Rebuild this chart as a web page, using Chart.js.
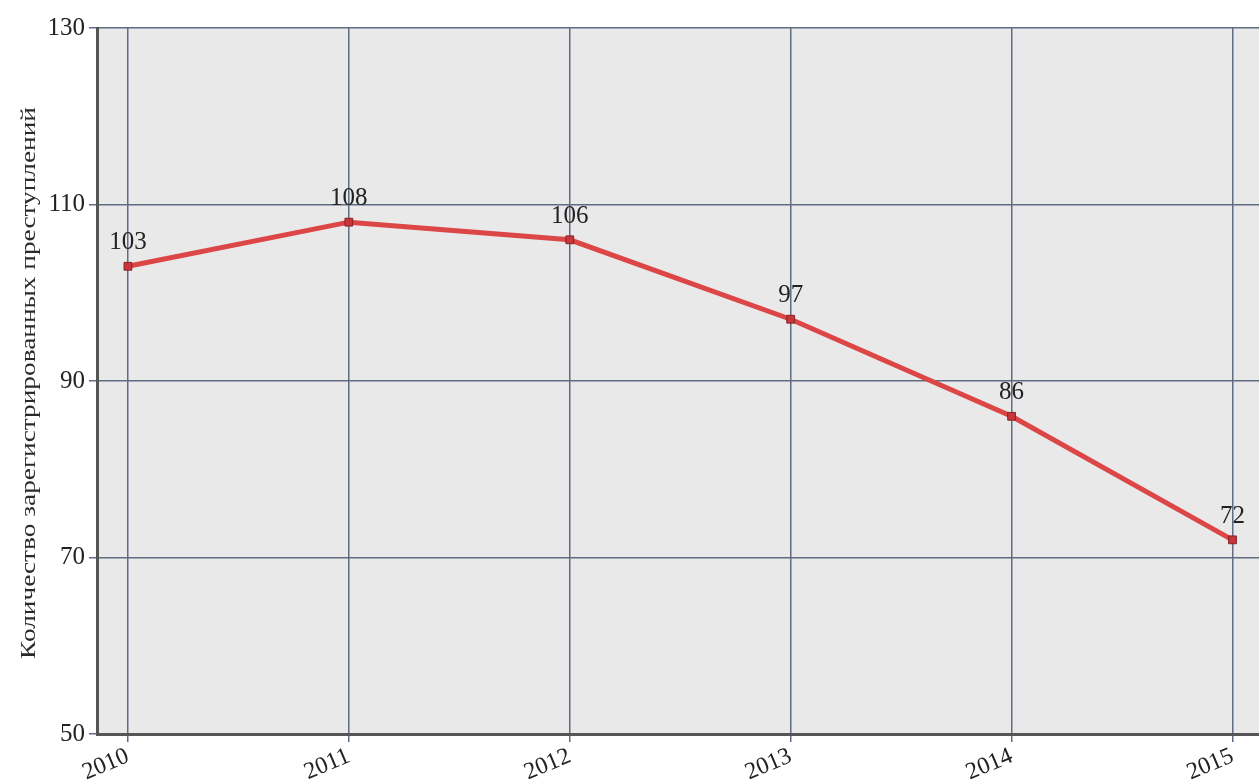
<!DOCTYPE html>
<html>
<head>
<meta charset="utf-8">
<script src="https://cdn.jsdelivr.net/npm/chart.js@4"></script>
<style>
  html, body { margin: 0; padding: 0; background: #fff; overflow: hidden; }
  #wrap { width: 1259px; height: 783px; }
</style>
</head>
<body>
<div id="wrap"><canvas id="lineChart" width="1259" height="783"></canvas></div>
<script>
// данные
const years = [2010, 2011, 2012, 2013, 2014, 2015];
const crimes = [103, 108, 106, 97, 86, 72];
const yTitle = "Количество зарегистрированных преступлений";

const serif = "'Liberation Serif', 'DejaVu Serif', serif";

// серый фон области графика
const plotBg = {
  id: "plotBg",
  beforeDraw(chart) {
    const { ctx, chartArea: a } = chart;
    ctx.save();
    ctx.fillStyle = "#e9e9e9";
    ctx.fillRect(a.left, a.top, a.right - a.left, a.bottom - a.top);
    ctx.restore();
  }
};

// подпись оси Y (немного растянута, как в оригинале)
const yAxisTitle = {
  id: "yAxisTitle",
  afterDraw(chart) {
    const { ctx, chartArea: a } = chart;
    ctx.save();
    ctx.translate(29, (a.top + a.bottom) / 2 + 2);
    ctx.rotate(-Math.PI / 2);
    ctx.scale(1.3, 1);
    ctx.font = "21px " + serif;
    ctx.fillStyle = "#2a2a2a";
    ctx.textAlign = "center";
    ctx.textBaseline = "middle";
    ctx.fillText(yTitle, 0, 0);
    ctx.restore();
  }
};

// подписи значений над точками
const valueLabels = {
  id: "valueLabels",
  afterDatasetsDraw(chart) {
    const { ctx } = chart;
    const meta = chart.getDatasetMeta(0);
    ctx.save();
    ctx.font = "25px " + serif;
    ctx.fillStyle = "#222";
    ctx.textAlign = "center";
    ctx.textBaseline = "alphabetic";
    meta.data.forEach((pt, i) => {
      ctx.fillText(String(crimes[i]), pt.x, pt.y - 17);
    });
    ctx.restore();
  }
};

new Chart(document.getElementById("lineChart"), {
  type: "line",
  data: {
    datasets: [{
      data: years.map((y, i) => ({ x: y, y: crimes[i] })),
      borderColor: "#dc4646",
      borderWidth: 5,
      pointStyle: "rect",
      pointRadius: 5.5,
      pointBackgroundColor: "#c8363a",
      pointBorderColor: "#8a2024",
      pointBorderWidth: 1,
      tension: 0
    }]
  },
  options: {
    responsive: false,
    animation: false,
    layout: { autoPadding: false, padding: { left: 0, top: 28, right: 0, bottom: 0 } },
    plugins: { legend: { display: false }, tooltip: { enabled: false } },
    scales: {
      x: {
        type: "linear",
        min: 2009.86,
        max: 2015.12,
        afterBuildTicks(scale) {
          scale.ticks = years.map(v => ({ value: v }));
        },
        ticks: {
          autoSkip: false,
          minRotation: 23,
          maxRotation: 23,
          padding: 0,
          color: "#222",
          font: { family: serif, size: 24 },
          callback: v => String(v)
        },
        grid: { color: "#5f6c84", lineWidth: 1.5, tickLength: 8, drawTicks: true },
        border: { color: "#555", width: 3 },
        afterFit(scale) {
          scale.height = 49;
          scale.paddingLeft = 0;
          scale.paddingRight = 0;
        }
      },
      y: {
        min: 50,
        max: 130,
        ticks: {
          stepSize: 20,
          color: "#222",
          padding: 4,
          font: { family: serif, size: 25 }
        },
        grid: { color: "#5f6c84", lineWidth: 1.5, tickLength: 8 },
        border: { color: "#555", width: 3 },
        afterFit(scale) {
          scale.width = 97;
          scale.paddingTop = 0;
          scale.paddingBottom = 0;
        }
      }
    }
  },
  plugins: [plotBg, valueLabels, yAxisTitle]
});
</script>
</body>
</html>
